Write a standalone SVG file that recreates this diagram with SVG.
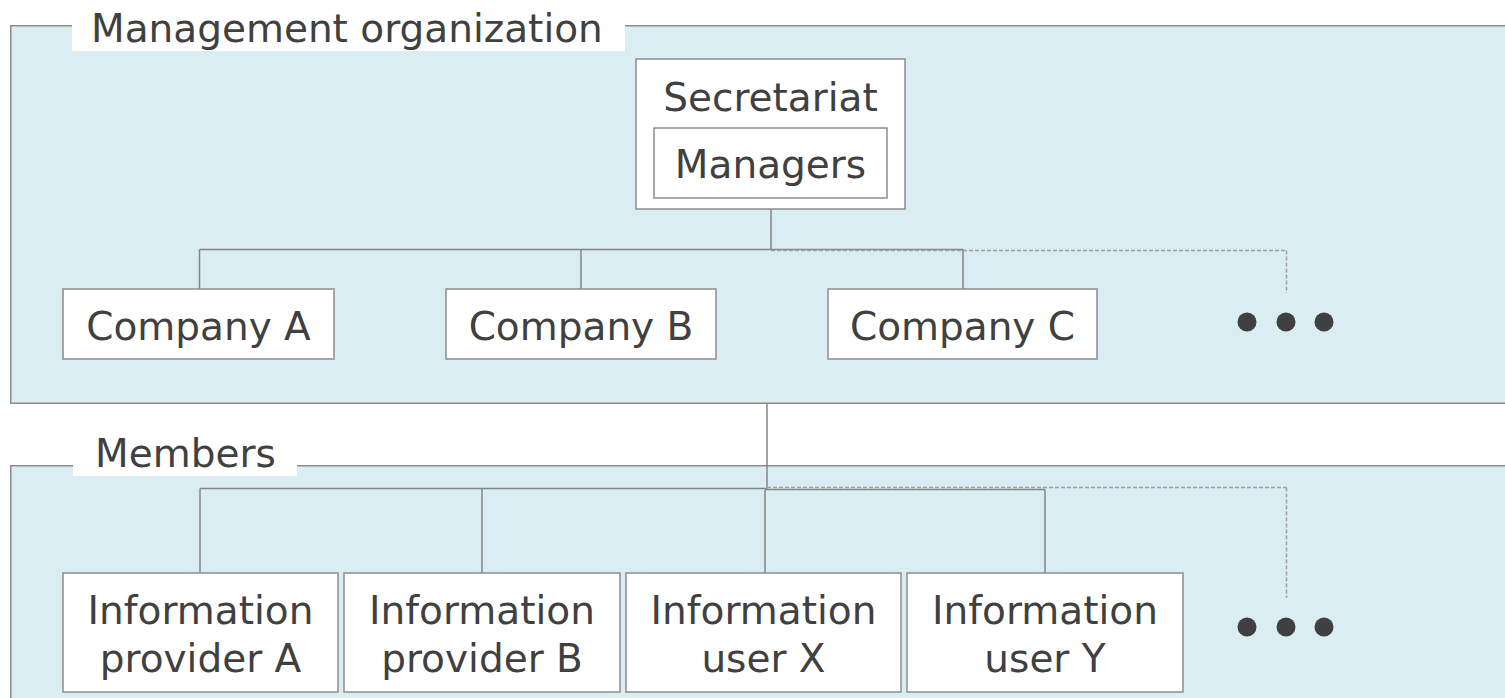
<svg xmlns="http://www.w3.org/2000/svg" width="1505" height="698" viewBox="0 0 1505 698">
<style>
.panel{fill:#DAEDF3;stroke:#8C8C8C;stroke-width:1.5}
.lbl{fill:#FFFFFF;stroke:none}
.box{fill:#FFFFFF;stroke:#8C8C8C;stroke-width:1.5}
.t{font-family:"DejaVu Sans",Verdana,sans-serif;font-size:39px;fill:#404040}
.c{text-anchor:middle}
.ln{stroke:#858585;stroke-width:1.5;fill:none}
.dash{stroke:#A0A0A0;stroke-width:1.5;fill:none;stroke-dasharray:4 2}
.dot{fill:#404040}
</style>
<rect width="1505" height="698" fill="#FFFFFF"/>
<g id="panel-management">
<rect class="panel" x="10.75" y="25.75" width="1510" height="377.5"/>
<rect class="lbl" x="72" y="0" width="553" height="51"/>
<text class="t" x="91" y="42">Management organization</text>
</g>
<g id="panel-members">
<rect class="panel" x="10.75" y="465.75" width="1510" height="260"/>
<rect class="lbl" x="73" y="428" width="224" height="48"/>
<text class="t" x="95" y="467">Members</text>
</g>
<g id="connectors">
<line class="ln" x1="771" y1="209" x2="771" y2="249.5"/>
<line class="ln" x1="199.5" y1="249.5" x2="963" y2="249.5"/>
<line class="dash" x1="771" y1="250.5" x2="1286.5" y2="250.5"/>
<line class="dash" x1="1286.5" y1="250.5" x2="1286.5" y2="293"/>
<line class="ln" x1="199.5" y1="249.5" x2="199.5" y2="289"/>
<line class="ln" x1="581" y1="249.5" x2="581" y2="289"/>
<line class="ln" x1="963" y1="249.5" x2="963" y2="289"/>
<line class="ln" x1="767" y1="403" x2="767" y2="488.5"/>
<line class="ln" x1="200" y1="488.5" x2="767" y2="488.5"/>
<line class="ln" x1="765" y1="489.5" x2="1045" y2="489.5"/>
<line class="dash" x1="767" y1="487.5" x2="1286.5" y2="487.5"/>
<line class="dash" x1="1286.5" y1="487.5" x2="1286.5" y2="598"/>
<line class="ln" x1="200" y1="488.5" x2="200" y2="573"/>
<line class="ln" x1="482" y1="488.5" x2="482" y2="573"/>
<line class="ln" x1="765" y1="489.5" x2="765" y2="573"/>
<line class="ln" x1="1045" y1="489.5" x2="1045" y2="573"/>
</g>
<g id="secretariat">
<rect class="box" x="636" y="59" width="269" height="150"/>
<text class="t c" x="770.5" y="111">Secretariat</text>
</g>
<g id="managers">
<rect class="box" x="654" y="128" width="233" height="70"/>
<text class="t c" x="770.5" y="178">Managers</text>
</g>
<g id="company-a">
<rect class="box" x="63" y="289" width="271" height="70"/>
<text class="t c" x="198.5" y="340">Company A</text>
</g>
<g id="company-b">
<rect class="box" x="446" y="289" width="270" height="70"/>
<text class="t c" x="581" y="340">Company B</text>
</g>
<g id="company-c">
<rect class="box" x="828" y="289" width="269" height="70"/>
<text class="t c" x="962.5" y="340">Company C</text>
</g>
<g id="more-companies">
<circle class="dot" cx="1247" cy="322" r="9.5"/>
<circle class="dot" cx="1286" cy="322" r="9.5"/>
<circle class="dot" cx="1324" cy="322" r="9.5"/>
</g>
<g id="provider-a">
<rect class="box" x="63" y="573" width="275" height="119"/>
<text class="t c" x="200.5" y="624">Information</text>
<text class="t c" x="200.5" y="672">provider A</text>
</g>
<g id="provider-b">
<rect class="box" x="344" y="573" width="276" height="119"/>
<text class="t c" x="482" y="624">Information</text>
<text class="t c" x="482" y="672">provider B</text>
</g>
<g id="user-x">
<rect class="box" x="626" y="573" width="275" height="119"/>
<text class="t c" x="763.5" y="624">Information</text>
<text class="t c" x="763.5" y="672">user X</text>
</g>
<g id="user-y">
<rect class="box" x="907" y="573" width="276" height="119"/>
<text class="t c" x="1045" y="624">Information</text>
<text class="t c" x="1045" y="672">user Y</text>
</g>
<g id="more-members">
<circle class="dot" cx="1247" cy="627" r="9.5"/>
<circle class="dot" cx="1286" cy="627" r="9.5"/>
<circle class="dot" cx="1324" cy="627" r="9.5"/>
</g>
</svg>
